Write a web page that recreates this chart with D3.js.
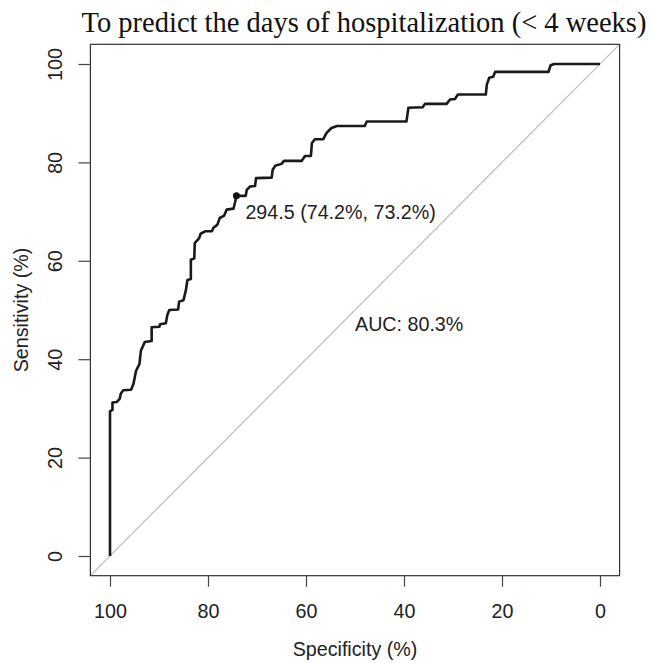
<!DOCTYPE html>
<html>
<head>
<meta charset="utf-8">
<script src="https://cdn.jsdelivr.net/npm/d3@7"></script>
<style>
  body { margin: 0; background: #fff; }
  text { font-family: "Liberation Sans", Arial, sans-serif; fill: #222; }
</style>
</head>
<body>
<div id="chart"></div>
<script>
// ROC curve vertices (specificity %, sensitivity %)
const specificity = [100, 100, 99.5, 99.5, 98.6, 98.0, 97.8, 97.3, 95.7, 95.2, 94.7, 94.0, 93.7, 92.9, 91.5, 91.5,
  89.9, 89.8, 88.6, 88.3, 87.9, 86.1, 85.9, 85.0, 84.5, 84.2, 83.5, 83.5, 82.8, 82.7, 81.8, 81.5, 80.6, 79.2,
  78.9, 78.1, 77.6, 76.7, 76.2, 74.8, 74.5, 74.2, 72.3, 72.1, 71.4, 70.4, 70.2, 67.0, 66.8, 66.3, 65.0, 64.5,
  60.9, 60.2, 59.0, 58.8, 58.2, 56.5, 55.8, 54.8, 53.7, 48.0, 47.6, 39.5, 39.1, 36.2, 35.7, 31.3, 30.6, 29.6,
  29.0, 23.3, 23.1, 22.6, 21.8, 21.4, 10.5, 10.1, 9.4, 0];
const sensitivity = [0, 29.4, 29.7, 31.2, 31.3, 32.0, 33.0, 33.7, 33.8, 35.0, 37.6, 39.0, 41.7, 43.5, 43.7, 46.5,
  46.6, 47.1, 47.3, 49.0, 50.0, 50.1, 51.7, 52.0, 54.1, 56.1, 56.3, 60.2, 60.5, 63.6, 64.6, 65.5, 66.0, 66.0,
  66.7, 67.3, 68.7, 69.2, 70.4, 70.6, 71.8, 73.2, 73.2, 74.4, 75.1, 75.2, 76.8, 76.9, 78.5, 79.3, 79.7, 80.3,
  80.3, 81.3, 81.3, 83.9, 84.7, 84.7, 86.0, 87.0, 87.4, 87.4, 88.3, 88.3, 91.1, 91.2, 91.9, 91.9, 92.8, 92.9,
  93.8, 93.8, 95.8, 97.2, 97.4, 98.4, 98.4, 99.7, 100, 100];

const xTicks = [100, 80, 60, 40, 20, 0];
const yTicks = [0, 20, 40, 60, 80, 100];

const bestThreshold = { label: "294.5", spec: 74.2, sens: 73.2 };
const aucValue = 80.3;
const titleText = "To predict the days of hospitalization (< 4 weeks)";

const width = 651, height = 663;
const fontSize = 19.7;

const svg = d3.select("#chart").append("svg")
  .attr("width", width)
  .attr("height", height);

const x = d3.scaleLinear().domain([100, 0]).range([110, 600]);
const y = d3.scaleLinear().domain([0, 100]).range([556, 64]);

// R-style extended plot region (4% padding)
const x0 = x(104), x1 = x(-4), y0 = y(-4), y1 = y(104);

// diagonal reference line
svg.append("line")
  .attr("x1", x(104)).attr("y1", y(-4))
  .attr("x2", x(-4)).attr("y2", y(104))
  .attr("stroke", "#bdbdbd")
  .attr("stroke-width", 1.2);

// box
svg.append("rect")
  .attr("x", x0).attr("y", y1)
  .attr("width", x1 - x0).attr("height", y0 - y1)
  .attr("fill", "none")
  .attr("stroke", "#333")
  .attr("stroke-width", 1.2);

// axes
const xAxis = svg.append("g")
  .attr("transform", `translate(0,${y0})`)
  .call(d3.axisBottom(x).tickValues(xTicks).tickSize(11).tickPadding(17).tickFormat(d3.format("d")));
xAxis.select(".domain").remove();
xAxis.selectAll("line").attr("stroke", "#444").attr("stroke-width", 1.2);
xAxis.selectAll("text").attr("font-size", fontSize).attr("font-family", "Liberation Sans, Arial, sans-serif").attr("fill", "#222");

const yAxis = svg.append("g")
  .attr("transform", `translate(${x0},0)`)
  .call(d3.axisLeft(y).tickValues(yTicks).tickSize(12).tickFormat(d3.format("d")));
yAxis.select(".domain").remove();
yAxis.selectAll("line").attr("stroke", "#444").attr("stroke-width", 1.2);
yAxis.selectAll("text")
  .attr("font-size", fontSize)
  .attr("font-family", "Liberation Sans, Arial, sans-serif")
  .attr("fill", "#222")
  .attr("x", null).attr("dy", null)
  .attr("text-anchor", "middle")
  .attr("transform", "translate(-28,0) rotate(-90)");

// ROC curve
const rocData = specificity.map((s, i) => ({ spec: s, sens: sensitivity[i] }));
const line = d3.line()
  .x(d => x(d.spec))
  .y(d => y(d.sens));

svg.append("path")
  .datum(rocData)
  .attr("fill", "none")
  .attr("stroke", "#1a1a1a")
  .attr("stroke-width", 2.6)
  .attr("stroke-linejoin", "round")
  .attr("d", line);

// best threshold
svg.append("circle")
  .attr("cx", x(bestThreshold.spec))
  .attr("cy", y(bestThreshold.sens))
  .attr("r", 3.5)
  .attr("fill", "#111");

svg.append("text")
  .attr("x", x(bestThreshold.spec) + 9)
  .attr("y", y(bestThreshold.sens) + 23)
  .attr("font-size", fontSize)
  .text(`${bestThreshold.label} (${bestThreshold.spec.toFixed(1)}%, ${bestThreshold.sens.toFixed(1)}%)`);

// AUC
svg.append("text")
  .attr("x", x(50))
  .attr("y", y(50) + 21)
  .attr("font-size", fontSize)
  .text(`AUC: ${aucValue.toFixed(1)}%`);

// axis titles
svg.append("text")
  .attr("x", (x0 + x1) / 2)
  .attr("y", 656)
  .attr("text-anchor", "middle")
  .attr("font-size", fontSize)
  .text("Specificity (%)");

svg.append("text")
  .attr("transform", `translate(28,${(y0 + y1) / 2}) rotate(-90)`)
  .attr("text-anchor", "middle")
  .attr("font-size", fontSize)
  .text("Sensitivity (%)");

// title
svg.append("text")
  .attr("x", 364)
  .attr("y", 32)
  .attr("text-anchor", "middle")
  .attr("font-size", 28.5)
  .style("font-family", "Liberation Serif, Times New Roman, serif")
  .style("fill", "#111")
  .text(titleText);
</script>
</body>
</html>
